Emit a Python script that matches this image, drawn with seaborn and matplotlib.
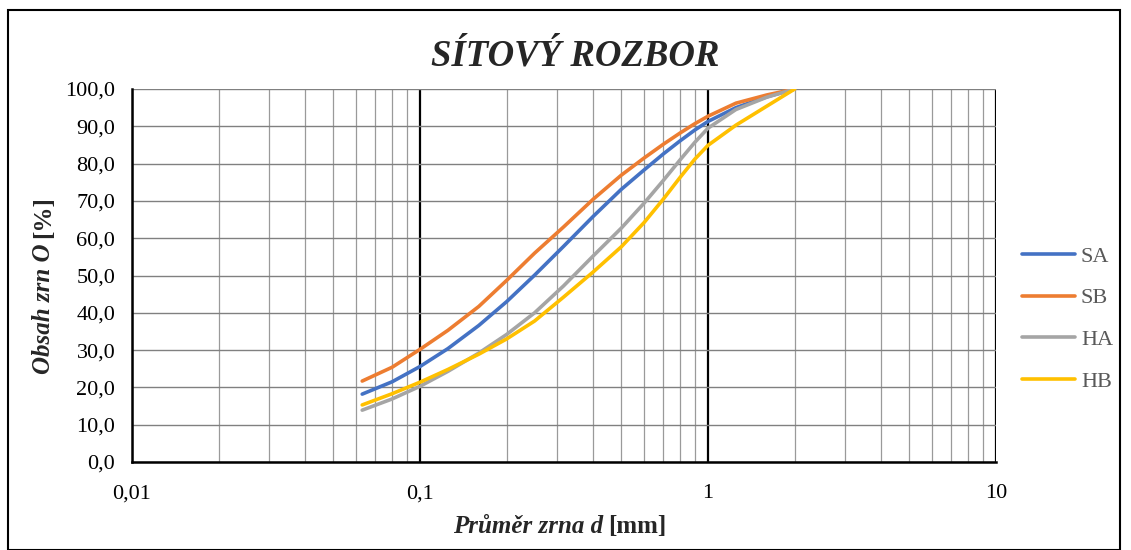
import numpy as np
import pandas as pd
import seaborn as sns
import matplotlib.pyplot as plt
from matplotlib import font_manager
from matplotlib.ticker import FixedLocator, FuncFormatter, NullFormatter
from matplotlib.patches import Rectangle

# Sieve sizes [mm] and passing percentages
d_mm = [0.063, 0.08, 0.1, 0.125, 0.16, 0.2, 0.25, 0.315, 0.4, 0.5,
        0.6, 0.7, 0.8, 0.9, 1.0, 1.25, 1.6, 2.0]
SA = [18.2, 21.5, 25.6, 30.4, 36.6, 43.0, 50.1, 57.8, 65.9, 73.1,
      78.3, 82.6, 86.1, 89.0, 91.3, 95.0, 97.9, 100.0]
SB = [21.7, 25.4, 30.2, 35.3, 41.7, 48.7, 56.0, 63.0, 70.5, 76.9,
      81.5, 85.2, 88.2, 90.7, 92.7, 96.2, 98.4, 100.0]
HA = [13.9, 16.9, 20.3, 24.3, 29.2, 34.2, 40.0, 47.2, 55.3, 62.7,
      69.4, 75.5, 81.0, 85.7, 89.5, 94.5, 97.8, 100.0]
HB = [15.3, 18.3, 21.4, 24.8, 28.9, 33.0, 37.8, 44.2, 51.0, 57.7,
      64.2, 70.5, 76.3, 81.2, 84.9, 90.3, 95.4, 100.0]

series = {"SA": SA, "SB": SB, "HA": HA, "HB": HB}
colors = {"SA": "#4472C4", "SB": "#ED7D31", "HA": "#A5A5A5", "HB": "#FFC000"}

df = pd.concat([pd.DataFrame({"d": d_mm, "O": v, "vzorek": k}) for k, v in series.items()],
               ignore_index=True)

# pick a Times-like serif that is actually installed
installed = {f.name for f in font_manager.fontManager.ttflist}
serif = next((n for n in ["Liberation Serif", "Times New Roman", "Nimbus Roman",
                          "TeX Gyre Termes", "Tinos", "FreeSerif", "Noto Serif"]
              if n in installed), "DejaVu Serif")

sns.set_style("white")
plt.rcParams["font.family"] = [serif, "DejaVu Serif"]

fig = plt.figure(figsize=(11.31, 5.5), dpi=100)
ax = fig.add_axes([132 / 1131, 1 - 462 / 550, (996 - 132) / 1131, (462 - 89) / 550])

sns.lineplot(data=df, x="d", y="O", hue="vzorek", palette=colors, sort=False,
             linewidth=2.6, ax=ax, legend=True)

ax.set_xscale("log")
ax.set_xlim(0.01, 10)
ax.set_ylim(0, 100)

# grid
ax.set_yticks(np.arange(0, 101, 10))
ax.yaxis.set_major_formatter(FuncFormatter(lambda v, p: f"{v:.1f}".replace(".", ",")))
ax.xaxis.set_major_locator(FixedLocator([0.01, 0.1, 1, 10]))
ax.xaxis.set_major_formatter(FuncFormatter(lambda v, p: f"{v:g}".replace(".", ",")))
minor = [m * 10.0 ** e for e in (-2, -1, 0) for m in range(2, 10)]
ax.xaxis.set_minor_locator(FixedLocator(minor))
ax.xaxis.set_minor_formatter(NullFormatter())
ax.grid(True, which="major", axis="y", color="#808080", linewidth=1.0)
ax.grid(True, which="minor", axis="x", color="#9a9a9a", linewidth=0.9)
ax.grid(True, which="major", axis="x", color="black", linewidth=1.6)
ax.set_axisbelow(True)

for s in ("top", "right"):
    ax.spines[s].set_visible(False)
for s in ("left", "bottom"):
    ax.spines[s].set_color("black")
    ax.spines[s].set_linewidth(1.8)
ax.tick_params(which="major", direction="out", length=6, width=1.8, color="black",
               labelsize=16, labelcolor="black", pad=6)
ax.tick_params(axis="x", which="major", pad=10)
ax.tick_params(which="minor", length=0)
ax.set_xlabel("")
ax.set_ylabel("")

# legend
handles, labels = ax.get_legend_handles_labels()
ax.legend(handles, labels, loc="center left", bbox_to_anchor=(1002 / 1131, 1 - 319 / 550),
          bbox_transform=fig.transFigure, frameon=False, fontsize=16, labelcolor="#595959",
          handlelength=2.4, handletextpad=0.25, labelspacing=0.95)

# title
fig.text(575 / 1131, 1 - 56 / 550, "SÍTOVÝ ROZBOR", ha="center", va="center",
         fontsize=26.5, fontweight="bold", fontstyle="italic")

# x axis label: bold italic part + bold bracket part
t1 = fig.text(603 / 1131, 1 - 533 / 550, "Průměr zrna d", ha="right", va="baseline",
              fontsize=18, fontweight="bold", fontstyle="italic")
ax.annotate("[mm]", xy=(1, 0), xycoords=t1, xytext=(5, 0), textcoords="offset pixels",
            ha="left", va="bottom", fontsize=18, fontweight="bold", annotation_clip=False)

# y axis label
t2 = fig.text(44 / 1131, 1 - 374 / 550, "Obsah zrn O", ha="center", va="bottom", rotation=90,
              fontsize=18, fontweight="bold", fontstyle="italic")
ax.annotate("[%]", xy=(0.5, 1), xycoords=t2, xytext=(0, 5), textcoords="offset pixels",
            ha="center", va="bottom", rotation=90, fontsize=18, fontweight="bold",
            annotation_clip=False)

# outer frame
fig.patches.append(Rectangle((8 / 1131, 0), (1120 - 8) / 1131, 1 - 10 / 550,
                             transform=fig.transFigure, fill=False, edgecolor="black",
                             linewidth=1.5))

plt.savefig("out.png", dpi=100)
